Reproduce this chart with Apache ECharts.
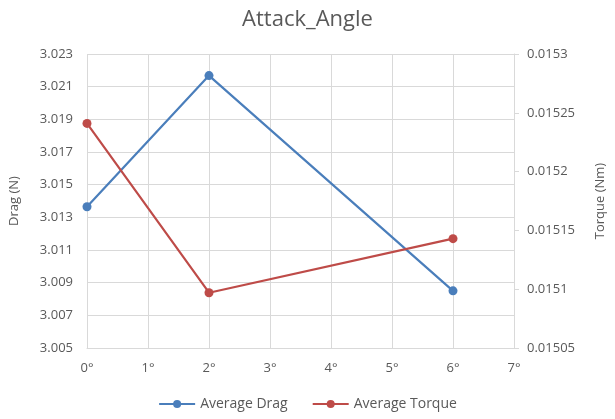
<!DOCTYPE html>
<html>
<head>
<meta charset="utf-8">
<script src="https://cdn.jsdelivr.net/npm/echarts@6/dist/echarts.min.js"></script>
<style>
  html, body { margin: 0; padding: 0; background: #fff; }
  #chart { width: 615px; height: 419px; }
</style>
</head>
<body>
<div id="chart"></div>
<script>
// attack angle (deg)
var angles = [0, 2, 6];
var avgDrag = [3.01365, 3.02168, 3.0085];
var avgTorque = [0.015241, 0.015097, 0.015143];

var textColor = '#595959';
var gridColor = '#d9d9d9';

function pairs(xs, ys) {
  var out = [];
  for (var i = 0; i < xs.length; i++) {
    out.push([xs[i], ys[i]]);
  }
  return out;
}

var chart = echarts.init(document.getElementById('chart'));

var option = {
  animation: false,
  textStyle: { fontFamily: 'Open Sans' },
  title: {
    text: 'Attack_Angle',
    left: 'center',
    top: 4,
    textStyle: { fontSize: 22, fontWeight: 'normal', color: textColor, fontFamily: 'Open Sans' }
  },
  grid: { left: 87, right: 97, top: 54, bottom: 71 },
  legend: {
    bottom: 3,
    left: 'center',
    itemWidth: 36,
    itemHeight: 10,
    itemGap: 24,
    textStyle: { fontSize: 14, color: textColor },
    data: ['Average Drag', 'Average Torque']
  },
  xAxis: {
    type: 'value',
    min: 0,
    max: 7,
    interval: 1,
    axisLine: { show: true, lineStyle: { color: gridColor } },
    axisTick: { show: false },
    axisLabel: { color: textColor, fontSize: 13, margin: 14, formatter: '{value}°' },
    splitLine: { show: true, lineStyle: { color: gridColor } }
  },
  yAxis: [
    {
      type: 'value',
      name: 'Drag (N)',
      nameLocation: 'middle',
      nameRotate: 90,
      nameGap: 66,
      nameTextStyle: { color: textColor, fontSize: 13 },
      min: 3.005,
      max: 3.023,
      interval: 0.002,
      axisLine: { show: false },
      axisTick: { show: false },
      axisLabel: {
        color: textColor, fontSize: 13, margin: 14,
        formatter: function (v) { return v.toFixed(3); }
      },
      splitLine: { show: true, lineStyle: { color: gridColor } }
    },
    {
      type: 'value',
      name: 'Torque (Nm)',
      nameLocation: 'middle',
      nameRotate: 90,
      nameGap: 80,
      nameTextStyle: { color: textColor, fontSize: 13 },
      min: 0.01505,
      max: 0.0153,
      interval: 0.00005,
      position: 'right',
      axisLine: { show: true, lineStyle: { color: gridColor } },
      axisTick: { show: true, length: 5, lineStyle: { color: gridColor } },
      axisLabel: {
        color: textColor, fontSize: 13, margin: 13,
        formatter: function (v) { return String(parseFloat(v.toFixed(5))); }
      },
      splitLine: { show: false }
    }
  ],
  series: [
    {
      name: 'Average Drag',
      type: 'line',
      yAxisIndex: 0,
      data: pairs(angles, avgDrag),
      symbol: 'circle',
      symbolSize: 9,
      itemStyle: { color: '#4a7ebb' },
      lineStyle: { color: '#4a7ebb', width: 2.2 }
    },
    {
      name: 'Average Torque',
      type: 'line',
      yAxisIndex: 1,
      data: pairs(angles, avgTorque),
      symbol: 'circle',
      symbolSize: 9,
      itemStyle: { color: '#be4b48' },
      lineStyle: { color: '#be4b48', width: 2.2 }
    }
  ]
};

chart.setOption(option);
</script>
</body>
</html>
